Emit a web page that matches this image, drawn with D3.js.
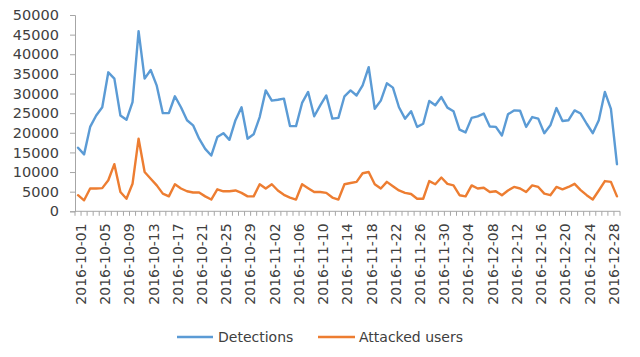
<!DOCTYPE html>
<html>
<head>
<meta charset="utf-8">
<script src="https://cdn.jsdelivr.net/npm/d3@7"></script>
<style>
  html, body { margin: 0; padding: 0; background: #fff; }
  svg { display: block; }
  text { font-family: "DejaVu Sans", sans-serif; fill: #404040; }
</style>
</head>
<body>
<svg id="chart" width="640" height="357"></svg>
<script>
// ---- data ----
const fmt = d3.timeFormat("%Y-%m-%d");
const categories = d3.timeDay.range(new Date(2016, 9, 1), new Date(2016, 11, 30)).map(fmt);

const detections = [
  16200, 14500, 21500, 24400, 26500, 35400, 33800, 24400, 23300, 27800,
  45900, 33800, 36000, 32000, 25000, 25000, 29300, 26500, 23200, 21900,
  18500, 15900, 14200, 18900, 19900, 18200, 23200, 26500, 18500, 19600,
  24000, 30800, 28200, 28400, 28700, 21700, 21700, 27600, 30400, 24200,
  27000, 29500, 23600, 23800, 29300, 30800, 29500, 32100, 36700, 26100,
  28200, 32600, 31500, 26500, 23600, 25500, 21500, 22300, 28100, 27000,
  29100, 26400, 25500, 20800, 20100, 23800, 24200, 24900, 21600, 21500,
  19300, 24700, 25700, 25600, 21500, 24000, 23600, 19900, 21900, 26300,
  23000, 23200, 25700, 24900, 22300, 19900, 23200, 30400, 26100, 12000
];
const attackedUsers = [
  4100, 2800, 5800, 5800, 5900, 7900, 12000, 4900, 3200, 7000,
  18500, 10000, 8300, 6600, 4500, 3800, 6900, 5800, 5100, 4800,
  4800, 3800, 3000, 5600, 5100, 5100, 5300, 4700, 3800, 3800,
  6900, 5800, 6900, 5300, 4200, 3500, 3000, 6900, 5900, 4900,
  4900, 4700, 3500, 3000, 6900, 7200, 7500, 9700, 10000, 6900,
  5800, 7500, 6400, 5300, 4700, 4400, 3200, 3200, 7700, 6900,
  8600, 7000, 6600, 4100, 3800, 6600, 5800, 6000, 4900, 5100,
  4100, 5300, 6200, 5800, 4900, 6600, 6200, 4500, 4100, 6200,
  5600, 6200, 7000, 5400, 4100, 3000, 5300, 7700, 7500, 3800
];
const yTicks = [0, 5000, 10000, 15000, 20000, 25000, 30000, 35000, 40000, 45000, 50000];
const seriesNames = ["Detections", "Attacked users"];
const seriesColors = ["#5b9bd5", "#ed7d31"];

// ---- layout ----
const svg = d3.select("#chart");
const mLeft = 75, mRight = 620, mTop = 15, mBottom = 211.3;

const x = d3.scaleBand().domain(categories).range([mLeft, mRight]).padding(0);
const y = d3.scaleLinear().domain([0, 50000]).range([mBottom, mTop]);
const axisColor = "#a6a6a6";

// Y axis
const yAxis = d3.axisLeft(y).tickValues(yTicks).tickSize(5).tickPadding(11).tickFormat(d3.format("d"));
const gy = svg.append("g").attr("transform", `translate(${mLeft},0)`).call(yAxis);
gy.select(".domain").attr("stroke", axisColor);
gy.selectAll(".tick line").attr("stroke", axisColor);
gy.selectAll(".tick text").style("font-size", "14.5px").attr("fill", "#404040");

// X axis line + ticks at band boundaries
const gx = svg.append("g");
gx.append("line").attr("x1", mLeft).attr("x2", mRight).attr("y1", mBottom).attr("y2", mBottom)
  .attr("stroke", axisColor);
const boundaries = categories.map(c => x(c)).concat([mRight]);
gx.selectAll("line.tk").data(boundaries).enter().append("line")
  .attr("class", "tk")
  .attr("x1", d => d).attr("x2", d => d)
  .attr("y1", mBottom).attr("y2", mBottom + 4.5)
  .attr("stroke", axisColor);

// X labels every 4th category
const labelCats = categories.filter((c, i) => i % 4 === 0);
gx.selectAll("text.xl").data(labelCats).enter().append("text")
  .attr("class", "xl")
  .attr("transform", d => `translate(${x(d) + x.bandwidth() / 2 + 3},${mBottom + 12}) rotate(-90)`)
  .attr("text-anchor", "end")
  .attr("dy", "0.35em")
  .style("font-size", "14px")
  .text(d => d);

// Lines
const line = d3.line()
  .x((d, i) => x(categories[i]) + x.bandwidth() / 2)
  .y(d => y(d));

[detections, attackedUsers].forEach((s, k) => {
  svg.append("path").datum(s)
    .attr("fill", "none")
    .attr("stroke", seriesColors[k])
    .attr("stroke-width", 2.4)
    .attr("stroke-linejoin", "round")
    .attr("stroke-linecap", "round")
    .attr("d", line);
});

// Legend
const legendY = 337;
const legendItems = [
  { x1: 177, x2: 213, tx: 218 },
  { x1: 318, x2: 355, tx: 359 }
];
legendItems.forEach((it, k) => {
  svg.append("line").attr("x1", it.x1).attr("x2", it.x2)
    .attr("y1", legendY).attr("y2", legendY)
    .attr("stroke", seriesColors[k]).attr("stroke-width", 2.4);
  svg.append("text").attr("x", it.tx).attr("y", legendY).attr("dy", "0.35em")
    .style("font-size", "14px").text(seriesNames[k]);
});
</script>
</body>
</html>
